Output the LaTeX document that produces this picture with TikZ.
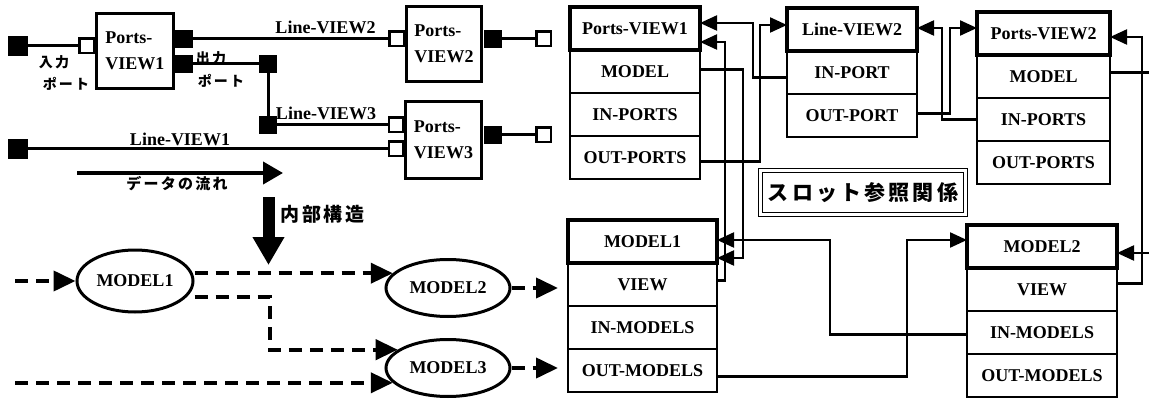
\documentclass[tikz,border=0pt]{standalone}
\usepackage{fontspec}
\setmainfont{Liberation Serif}
\newfontfamily\jfont[LetterSpace=15]{Noto Sans CJK JP}
\usetikzlibrary{positioning, shapes.geometric, arrows.meta}
\tikzset{
  % Set arrowhead
  >={Triangle[length=17pt, width=15pt]},
  % Latin label
  lbl/.style={font=\bfseries\fontsize{18}{21}\selectfont, inner sep=0pt},
  % Japanese label
  jlbl/.style={font=\jfont\bfseries\fontsize{#1}{#1}\selectfont, inner sep=0pt},
  % Wire between ports
  wire/.style={line width=3pt},
  % Output port (black) and input port (white)
  bport/.style={draw, fill=black, line width=1pt, minimum size=17pt, inner sep=0pt},
  wport/.style={draw, fill=white, line width=2.5pt, minimum size=14.5pt, inner sep=0pt},
  % Ports view box
  pbox/.style={draw, line width=3pt, minimum width=#1, minimum height=75pt,
    align=left, inner sep=0pt, font=\bfseries\fontsize{18}{26}\selectfont},
  % Model node
  model/.style={ellipse, draw, line width=3pt, lbl},
  % Data flow between models
  flow/.style={line width=4pt, dash pattern=on 13pt off 8pt,
    -{Triangle[length=22pt, width=20pt]}},
  % Record slot
  slot/.style={draw, line width=2pt, minimum width=#1, minimum height=43pt,
    outer sep=0pt, lbl},
  slothead/.style={slot=#1, line width=3.5pt},
  % Slot reference
  slotref/.style={line width=2.2pt, -{Triangle[length=17pt, width=15pt]}},
  % Title with double frame
  titlebox/.style={draw, double, double distance=2.5pt, line width=1.2pt,
    minimum width=205pt, minimum height=44pt, jlbl=21},
}

\begin{document}
\begin{tikzpicture}[x=1pt, y=-1pt]
  \path[use as bounding box, clip] (0,0) rectangle (1149,401);

  % ports and lines
  \node[pbox=77pt] (pv1p) at (135,51) {Ports-\\VIEW1};
  \node[wport] (pv1i) at (86.5,46) {};
  \node[bport] (pv1o1) at (183.5,39) {};
  \node[bport] (pv1o2) at (183.5,64) {};
  \node[bport, minimum size=19pt] (in1) at (18,46) {};
  \node[bport] (j1) at (268,64) {};
  \node[bport] (j2) at (268,125) {};
  \node[bport, minimum size=19pt] (lv1s) at (18,149) {};

  \node[pbox=75pt] (pv2p) at (444,44) {Ports-\\VIEW2};
  \node[wport] (pv2i) at (396.5,39) {};
  \node[bport] (pv2o) at (492.5,39) {};
  \node[wport] (pv2end) at (543.5,39) {};

  \node[pbox=76pt, minimum height=77pt] (pv3p) at (443.5,140) {Ports-\\VIEW3};
  \node[wport] (pv3i1) at (396,125) {};
  \node[wport] (pv3i2) at (396,149) {};
  \node[bport] (pv3o) at (492.5,135) {};
  \node[wport] (pv3end) at (543.5,135) {};

  \draw[wire] (in1) -- (pv1i);
  \draw[wire] (pv1o1) -- (pv2i);
  \draw[wire] (pv1o2) -- (j1);
  \draw[wire] (j1) -- (j2);
  \draw[wire] (j2) -- (pv3i1);
  \draw[wire] (lv1s) -- (pv3i2);
  \draw[wire] (pv2o) -- (pv2end);
  \draw[wire] (pv3o) -- (pv3end);

  \node[lbl] (lv2lbl) at (325.5,27) {Line-VIEW2};
  \node[lbl] (lv3lbl) at (326,113) {Line-VIEW3};
  \node[lbl] (lv1lbl) at (180,139) {Line-VIEW1};
  \node[jlbl=14] (inlbl) at (54,62) {入力};
  \node[jlbl=14] (inport) at (66,84) {ポート};
  \node[jlbl=14] (outlbl) at (211,58) {出力};
  \node[jlbl=14] (outport) at (221,81) {ポート};

  \coordinate (flowa) at (77,173);
  \coordinate (flowb) at (283,173);
  \draw[line width=4pt, -{Triangle[length=20pt, width=22pt]}] (flowa) -- (flowb);
  \node[jlbl=15] (flowlbl) at (177,184) {データの流れ};

  \coordinate (dna) at (268.5,197);
  \coordinate (dnb) at (268.5,265);
  \draw[line width=12pt, -{Triangle[length=28pt, width=30pt]}] (dna) -- (dnb);
  \node[jlbl=19, anchor=west] (inner) at (280,214) {内部構造};

  % models
  \node[model, minimum width=116pt, minimum height=62pt] (mod1) at (135,281) {MODEL1};
  \node[model, minimum width=124pt, minimum height=57pt] (mod2) at (448,288) {MODEL2};
  \node[model, minimum width=124pt, minimum height=57pt] (mod3) at (448,368) {MODEL3};
  \coordinate (src1) at (15,281);
  \coordinate (src2) at (15,382);
  \coordinate (out2) at (558,288);
  \coordinate (out3) at (558,368);
  \draw[flow] (src1) -- (mod1);
  \draw[flow] (mod2.165 -| mod1.east) -- (mod2.165);
  \draw[flow] ([yshift=-16pt]mod1.east) -- ++(75,0) |- (mod3.160);
  \draw[flow] (mod3.195 -| src2) -- (mod3.195);
  \draw[flow] (mod2) -- (out2);
  \draw[flow] (mod3) -- (out3);

  % slot records
  \node[slothead=130pt] (pv1h) at (635,28.5) {Ports-VIEW1};
  \node[slot=130pt, below=0pt of pv1h] (pv1md) {MODEL};
  \node[slot=130pt, below=0pt of pv1md] (pv1ip) {IN-PORTS};
  \node[slot=130pt, below=0pt of pv1ip] (pv1op) {OUT-PORTS};

  \node[slothead=130pt] (lv2h) at (852,29.5) {Line-VIEW2};
  \node[slot=130pt, below=0pt of lv2h] (lv2ip) {IN-PORT};
  \node[slot=130pt, below=0pt of lv2ip] (lv2op) {OUT-PORT};

  \node[slothead=133pt] (pv2h) at (1043.5,33.5) {Ports-VIEW2};
  \node[slot=133pt, below=0pt of pv2h] (pv2md) {MODEL};
  \node[slot=133pt, below=0pt of pv2md] (pv2ip) {IN-PORTS};
  \node[slot=133pt, below=0pt of pv2ip] (pv2op) {OUT-PORTS};

  \node[slothead=149pt] (m1h) at (642.5,241.5) {MODEL1};
  \node[slot=149pt, below=0pt of m1h] (m1vw) {VIEW};
  \node[slot=149pt, below=0pt of m1vw] (m1im) {IN-MODELS};
  \node[slot=149pt, below=0pt of m1im] (m1om) {OUT-MODELS};

  \node[slothead=150pt] (m2h) at (1042,246.5) {MODEL2};
  \node[slot=150pt, below=0pt of m2h] (m2vw) {VIEW};
  \node[slot=150pt, below=0pt of m2vw] (m2im) {IN-MODELS};
  \node[slot=150pt, below=0pt of m2im] (m2om) {OUT-MODELS};

  \node[titlebox] (slottitle) at (863,192.5) {スロット参照関係};

  \draw[slotref] ([yshift=-5pt]lv2ip.west) -- ++(-34,0) |- ([yshift=5.5pt]pv1h.east);
  \draw[slotref] ([yshift=4pt]m1vw.east) -- ++(8,0) |- ([yshift=-13.5pt]pv1h.east);
  \draw[slotref] ([yshift=2pt]pv1md.east) -- ++(43,0) |- ([yshift=-16.5pt]m1h.east);
  \draw[slotref] ([yshift=-2pt]m2im.west) -- ++(-137,0) |- ([yshift=1.5pt]m1h.east);
  \draw[slotref] ([yshift=-6pt]m1om.east) -- ++(190,0) |- ([yshift=6.5pt]m2h.west);
  \draw[slotref] ([yshift=-4pt]pv1op.east) -- ++(60,0) |- ([yshift=4.5pt]lv2h.west);
  \draw[slotref] (pv2ip.west) -- ++(-35,0) |- ([yshift=1.5pt]lv2h.east);
  \draw[slotref] ([yshift=2pt]lv2op.east) -- ++(33,0) |- ([yshift=5.5pt]pv2h.west);
  \draw[slotref] ([yshift=6pt]m2vw.east) -- ++(25,0) |- ([yshift=-3.5pt]pv2h.east);
  \draw[slotref] ([yshift=4pt]pv2md.east) -- ++(45,0) |- ([yshift=-6.5pt]m2h.east);
\end{tikzpicture}
\end{document}
